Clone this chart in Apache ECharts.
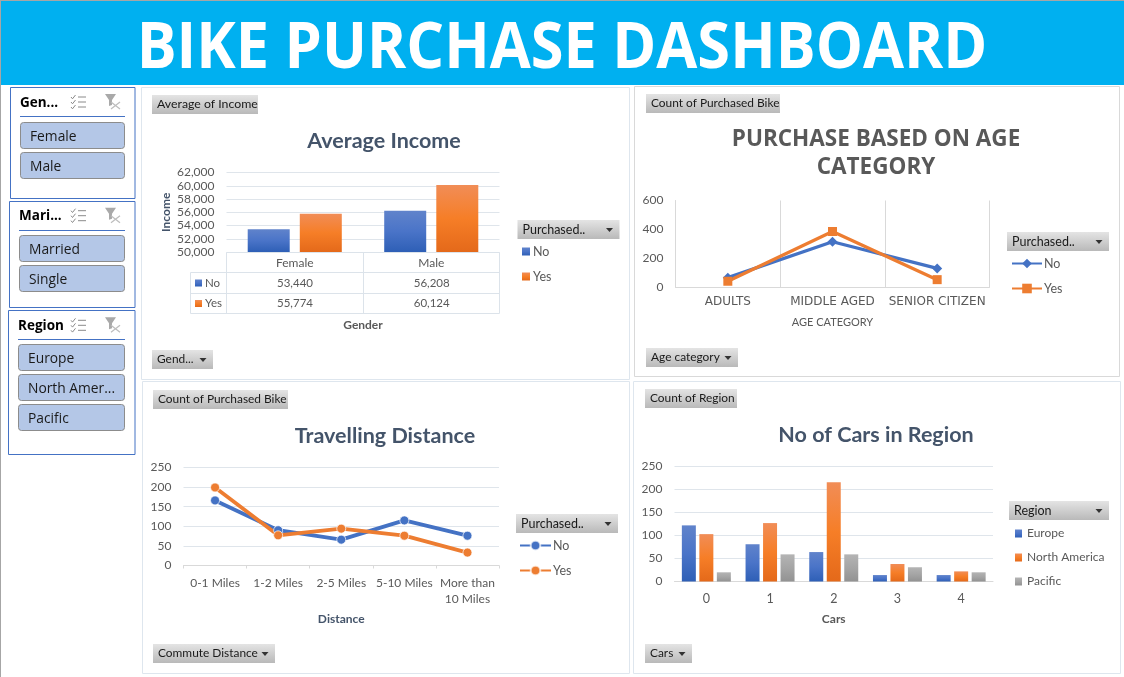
<!DOCTYPE html>
<html><head><meta charset="utf-8">
<style>html,body{margin:0;padding:0;background:#fff}#c{width:1124px;height:677px}</style>
<script src="https://cdn.jsdelivr.net/npm/echarts@6/dist/echarts.min.js"></script>
</head><body><div id="c"></div>
<script>
// ---- data ----
const dashboardTitle = 'BIKE PURCHASE DASHBOARD';
const purchased = ['No', 'Yes'];
const genders = ['Female', 'Male'];
const incomeNo = [53440, 56208];
const incomeYes = [55774, 60124];
const ageCats = ['ADULTS', 'MIDDLE AGED', 'SENIOR CITIZEN'];
const ageNo = [65, 314, 129];
const ageYes = [40, 385, 51];
const distCats = ['0-1 Miles', '1-2 Miles', '2-5 Miles', '5-10 Miles', 'More than\n10 Miles'];
const distNo = [166, 90, 66, 115, 76];
const distYes = [199, 77, 94, 76, 33];
const carCats = ['0', '1', '2', '3', '4'];
const regions = ['Europe', 'North America', 'Pacific'];
const carEurope = [122, 81, 64, 14, 14];
const carNA = [103, 127, 216, 38, 22];
const carPacific = [20, 59, 59, 31, 20];
const slicerGender = ['Female', 'Male'];
const slicerMarital = ['Married', 'Single'];
const slicerRegion = ['Europe', 'North Amer...', 'Pacific'];

// ---- style helpers ----
const CH = 'Lato, "Open Sans", sans-serif';
const SL = '"Open Sans", sans-serif';
const WIDE = '"DejaVu Sans", sans-serif';
const vg = (a, b, c) => ({type:'linear',x:0,y:0,x2:0,y2:1,colorStops:c
  ?[{offset:0,color:a},{offset:.5,color:b},{offset:1,color:c}]
  :[{offset:0,color:a},{offset:1,color:b}]});
const BLUE = vg('#6083CB','#4A74C8','#2E5FB6');
const ORANGE = vg('#F18D57','#F67E27','#E4691A');
const GREY = vg('#B4B4B4','#A5A5A5','#929292');
const LBL = '#595959', TTL = '#44546A', GRID = '#DFE5EB';

const g = [];
const rect = (x,y,w,h,fill,stroke,r,lw,z) => g.push({type:'rect',shape:{x,y,width:w,height:h,r:r||0},
  style:{fill:fill||'transparent',stroke:stroke||null,lineWidth:lw||1},silent:true,z:z||0});
const line = (x1,y1,x2,y2,c,w,z) => g.push({type:'line',shape:{x1,y1,x2,y2},style:{stroke:c,lineWidth:w||1},silent:true,z:z||1});
const txt = (x,y,t,font,fill,align,z) => g.push({type:'text',x,y,style:{text:t,font,fill,align:align||'left',verticalAlign:'middle'},silent:true,z:z||5});

// header & frame
rect(0,0,1124,85,'#00B0F0');
rect(0,0,1124,1,'#A6A6A6');
rect(0,0,1,677,'#A6A6A6');
g.push({type:'text',x:562,y:45,scaleY:1.08,style:{text:dashboardTitle,y:4.8,font:'bold 59.5px "Open Sans", sans-serif',fill:'#fff',align:'center',verticalAlign:'middle'},silent:true,z:5});

// panels
rect(141.5,87.5,488,292,'#fff','#DEE6EE');
rect(634.5,86.5,485,290,'#fff','#D9D9D9');
rect(142.5,381.5,487,292,'#fff','#DEE6EE');
rect(633.5,381.5,487,292,'#fff','#DEE6EE');

// field buttons
function fieldBtn(x,y,w,t,drop,size){
  rect(x,y,w,19,vg('#E4E4E4','#B9B9B9'));
  txt(x+5,y+9.5,t,(size||11.9)+'px '+CH,'#1a1a1a');
  if(drop) g.push({type:'polygon',shape:{points:[[x+w-13.5,y+8],[x+w-6.5,y+8],[x+w-10,y+12]]},style:{fill:'#333'},silent:true,z:5});
}
fieldBtn(152,95,106,'Average of Income',false,12.3);
fieldBtn(152,350,61,'Gend...',true);
fieldBtn(517.5,220,102,'Purchased..',true,12.5);
fieldBtn(646,94,134,'Count of Purchased Bike');
fieldBtn(646,348,92,'Age category',true);
fieldBtn(1007,232,102,'Purchased..',true,12.5);
fieldBtn(153,390,135,'Count of Purchased Bike');
fieldBtn(153,644,122,'Commute Distance',true);
fieldBtn(516,514,102,'Purchased..',true,12.5);
fieldBtn(645,389,92,'Count of Region');
fieldBtn(645,644,47,'Cars',true);
fieldBtn(1009,501,100,'Region',true,12.5);

// data table under chart 1
const tL=190.5,tA=226.5,tM=363.5,tR=499.5,tY=[252.5,272.5,293.5,313.5];
const TB='#DCE3EA';
line(tA,tY[0],tR,tY[0],TB); line(tL,tY[1],tR,tY[1],TB); line(tL,tY[2],tR,tY[2],TB); line(tL,tY[3],tR,tY[3],TB);
line(tL,tY[1],tL,tY[3],TB); line(tA,tY[0],tA,tY[3],TB); line(tM,tY[0],tM,tY[3],TB); line(tR,tY[0],tR,tY[3],TB);
const rows=[incomeNo,incomeYes], keys=[BLUE,ORANGE];
rows.forEach((r,i)=>{
  const cy=(tY[i+1]+tY[i+2])/2;
  rect(195,cy-3.5,7,7,keys[i]);
  txt(205,cy,purchased[i],'11.5px '+CH,LBL);
  r.forEach((v,j)=>txt(j?431.7:295,cy,v.toLocaleString('en-US'),'11.5px '+CH,LBL,'center'));
});

// slicers
function slicer(l,t,b,title,hy,uy,btnTop,items){
  rect(l+.5,t+.5,134.5-l,b-t,'#fff','#4472C4');
  txt(l+10,hy+.8,title,'bold 13.5px '+SL,'#000');
  line(l+10,uy,125,uy,'#4472C4',1);
  // multi-select icon
  [0,1,2].forEach(i=>{
    const y=hy-5+i*5;
    g.push({type:'polyline',shape:{points:[[71,y],[72.5,y+1.8],[75.5,y-2]]},style:{stroke:'#8a8a8a',fill:null,lineWidth:1},silent:true,z:5});
    line(78,y,86,y,'#8a8a8a',1,5);
  });
  // clear-filter icon
  g.push({type:'polygon',shape:{points:[[105,hy-8],[116,hy-8],[112,hy-2],[112,hy+3],[109,hy+4],[109,hy-2]]},style:{fill:'#A9A9A9'},silent:true,z:5});
  line(111,hy,120,hy+7,'#BDBDBD',1.2,6); line(120,hy,111,hy+7,'#BDBDBD',1.2,6);
  items.forEach((it,i)=>{
    const y=btnTop+i*30;
    rect(l+10.5,y+.5,124-(l+10),26,'#B4C7E7','#8C8C8C',3);
    txt(l+20,y+15,it,'13.8px '+SL,'#1a1a1a');
  });
}
slicer(10,87,198,'Gen...',102,116.5,122,slicerGender);
slicer(9,201,307,'Mari...',215.7,230.5,235,slicerMarital);
slicer(8,310,454,'Region',325.3,339.5,344,slicerRegion);

// ---- chart option ----
const grids=[
 {left:226.5,top:172.5,width:273,height:79.5},
 {left:675.5,top:200.5,width:314,height:86.5},
 {left:183.5,top:467.5,width:315.5,height:98},
 {left:674.5,top:466.5,width:318.5,height:115}
];
const cat=(i,data,o)=>Object.assign({type:'category',gridIndex:i,data,
  axisLine:{lineStyle:{color:'#D9D9D9'}},axisTick:{show:false},
  axisLabel:{color:LBL,fontFamily:CH,fontSize:12,interval:0,margin:10},
  nameLocation:'middle',
  nameTextStyle:{color:LBL,fontFamily:CH,fontSize:12,fontWeight:'bold'}},o);
const val=(i,min,max,interval,o)=>Object.assign({type:'value',gridIndex:i,min,max,interval,
  axisLine:{show:false},axisTick:{show:false},
  axisLabel:{color:LBL,fontFamily:CH,fontSize:12,margin:12,showMinLabel:true,showMaxLabel:true,
    formatter:v=>v.toLocaleString('en-US')},
  splitLine:{lineStyle:{color:GRID}}},o);
// series of each chart get their own key so that a legend picks up that chart's symbols
const key=(name,chartKey)=>name+'|'+chartKey;
const bar=(name,data,i,color,w,gap)=>({type:'bar',name,data,xAxisIndex:i,yAxisIndex:i,barWidth:w,barGap:gap,
  itemStyle:{color},emphasis:{disabled:true}});
const ln=(name,data,i,color,symbol,size,w,b)=>({type:'line',name,data,xAxisIndex:i,yAxisIndex:i,symbol,symbolSize:size,
  lineStyle:{color,width:w},itemStyle:Object.assign({color},b?{borderColor:'rgba(255,255,255,.7)',borderWidth:1}:{}),emphasis:{disabled:true}});
const lg=(left,top,data,o)=>Object.assign({left,top,data,orient:'vertical',selectedMode:false,padding:0,
  formatter:n=>n.split('|')[0]},o);
const lgText=(pad,size)=>({color:LBL,fontFamily:CH,fontSize:size||12.5,lineHeight:13,padding:[0,0,0,pad]});

const ttl=(text,left,top,o)=>({text,left,top,textAlign:'center',padding:0,
  textStyle:Object.assign({color:TTL,fontFamily:CH,fontWeight:'bold',fontSize:21.5,lineHeight:28},o||{})});

const option={
  animation:false,
  backgroundColor:'#fff',
  graphic:{elements:g},
  title:[
    ttl('Average Income',384,127),
    ttl('PURCHASE BASED ON AGE\nCATEGORY',876,126,{color:'#595959',fontFamily:SL,fontSize:22.5}),
    ttl('Travelling Distance',385,422),
    ttl('No of Cars in Region',876,421)
  ],
  grid:grids,
  legend:[
    lg(522,245,purchased.map(p=>key(p,'inc')),{itemWidth:8,itemHeight:8,itemGap:12,icon:'rect',textStyle:lgText(-2)}),
    lg(1011,257,purchased.map(p=>key(p,'age')),{itemWidth:30,itemHeight:12,itemGap:12,textStyle:lgText(-3)}),
    lg(519,539,purchased.map(p=>key(p,'dist')),{itemWidth:31,itemHeight:12,itemGap:12,textStyle:lgText(-3)}),
    lg(1015,527,regions,{itemWidth:7,itemHeight:8,itemGap:11,icon:'rect',textStyle:lgText(0,12)})
  ],
  xAxis:[
    cat(0,genders,{name:'Gender',nameGap:67,axisLine:{show:false},axisLabel:{color:LBL,fontFamily:CH,fontSize:12,margin:5,interval:0}}),
    cat(1,ageCats,{name:'AGE CATEGORY',nameGap:30,nameTextStyle:{color:LBL,fontFamily:CH,fontSize:11},
      axisLabel:{color:LBL,fontFamily:WIDE,fontSize:12,interval:0,margin:9},
      splitLine:{show:true,interval:0,lineStyle:{color:'#D9D9D9'}}}),
    cat(2,distCats,{name:'Distance',nameGap:48,nameTextStyle:{color:TTL,fontFamily:CH,fontSize:12,fontWeight:'bold'},
      axisTick:{show:true,alignWithLabel:false,length:3,lineStyle:{color:'#D9D9D9'},interval:0},
      axisLabel:{color:LBL,fontFamily:CH,fontSize:12,interval:0,margin:10,lineHeight:16}}),
    cat(3,carCats,{name:'Cars',nameGap:32,axisLabel:{color:LBL,fontFamily:CH,fontSize:12.5,interval:0,margin:11}})
  ],
  yAxis:[
    val(0,50000,62000,2000,{name:'Income',nameLocation:'middle',nameGap:54,nameTextStyle:{color:TTL,fontFamily:CH,fontSize:12,fontWeight:'bold'}}),
    val(1,0,600,200,{splitLine:{show:false},axisLine:{show:true,lineStyle:{color:'#D9D9D9'}}}),
    val(2,0,250,50),
    val(3,0,250,50)
  ],
  series:[
    bar(key('No','inc'),incomeNo,0,BLUE,42,'24%'),
    bar(key('Yes','inc'),incomeYes,0,ORANGE,42,'24%'),
    ln(key('No','age'),ageNo,1,'#4472C4','diamond',10,3.3),
    ln(key('Yes','age'),ageYes,1,'#ED7D31','rect',9,3.3),
    ln(key('No','dist'),distNo,2,'#4472C4','circle',9,3.8,true),
    ln(key('Yes','dist'),distYes,2,'#ED7D31','circle',9,3.8,true),
    bar('Europe',carEurope,3,BLUE,14,'25%'),
    bar('North America',carNA,3,ORANGE,14,'25%'),
    bar('Pacific',carPacific,3,GREY,14,'25%')
  ]
};
const chart=echarts.init(document.getElementById('c'),null,{renderer:'canvas',width:1124,height:677});
chart.setOption(option);
</script></body></html>
